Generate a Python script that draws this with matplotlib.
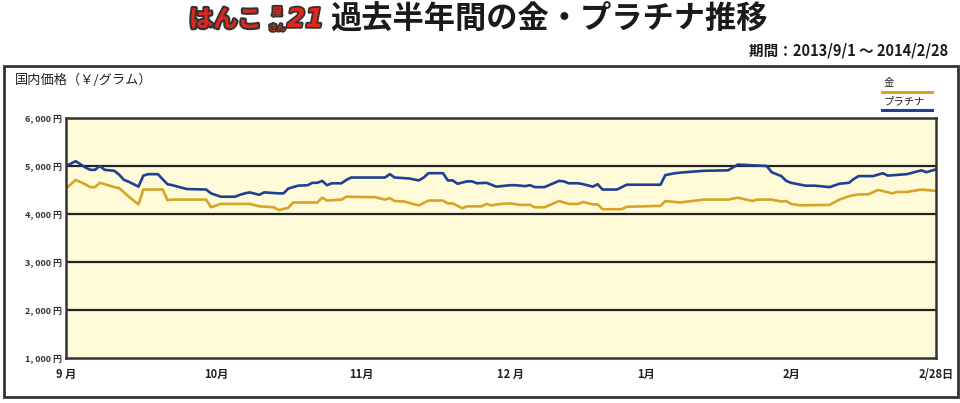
import matplotlib
matplotlib.use("Agg")
import matplotlib.pyplot as plt
import matplotlib.patheffects as pe
from matplotlib.patches import Rectangle
from matplotlib.lines import Line2D

plt.rcParams['font.family'] = ['Noto Sans CJK JP', 'DejaVu Sans']

# 2013/9/1 からの経過日数と価格 (円/グラム)
plat_days = [0, 2, 4, 5, 6, 7, 8, 10, 11, 12, 13, 15, 16, 17, 19, 21, 22, 25, 29, 30,
             32, 35, 36, 37, 38, 40, 41, 44, 45, 46, 48, 50, 51, 52, 53, 54, 55, 57, 58, 59,
             63, 66, 67, 68, 71, 73, 74, 75, 78, 79, 80, 81, 83, 84, 85, 87, 89, 92, 93, 95,
             96, 97, 99, 102, 103, 104, 106, 107, 109, 110, 111, 114, 116, 123, 124, 126, 128,
             132, 137, 139, 145, 146, 148, 149, 150, 153, 155, 158, 160, 162, 163, 164, 167,
             169, 170, 174, 177, 178, 180]
plat_vals = [5000, 5100, 4970, 4920, 4920, 5000, 4920, 4900, 4820, 4710, 4670, 4570, 4800,
             4830, 4830, 4620, 4600, 4520, 4510, 4430, 4360, 4360, 4400, 4430, 4450, 4400,
             4450, 4430, 4430, 4530, 4590, 4600, 4650, 4650, 4690, 4600, 4640, 4640, 4710,
             4760, 4760, 4760, 4830, 4760, 4740, 4700, 4760, 4850, 4850, 4700, 4700, 4630,
             4680, 4680, 4640, 4650, 4570, 4600, 4600, 4580, 4600, 4560, 4560, 4690, 4680,
             4640, 4640, 4620, 4570, 4620, 4510, 4510, 4610, 4610, 4810, 4850, 4870, 4900,
             4910, 5030, 5000, 4870, 4790, 4690, 4650, 4590, 4590, 4560, 4630, 4650, 4730,
             4790, 4790, 4850, 4800, 4830, 4910, 4870, 4930]

gold_days = [0, 2, 4, 5, 6, 7, 8, 10, 11, 13, 15, 16, 20, 21, 22, 29, 30, 32, 35, 38,
             40, 43, 44, 46, 47, 52, 53, 54, 57, 58, 64, 66, 67, 68, 70, 71, 73, 75, 78, 79,
             80, 82, 83, 86, 87, 88, 90, 92, 94, 96, 97, 99, 102, 104, 106, 107, 109, 110,
             111, 115, 116, 123, 124, 127, 132, 137, 139, 142, 143, 146, 148, 149, 150, 152,
             158, 160, 162, 164, 166, 168, 171, 172, 174, 177, 180]
gold_vals = [4530, 4710, 4620, 4560, 4560, 4650, 4620, 4560, 4540, 4360, 4200, 4510, 4510,
             4290, 4300, 4300, 4140, 4210, 4210, 4210, 4160, 4140, 4080, 4130, 4240, 4240,
             4340, 4280, 4300, 4360, 4350, 4300, 4330, 4270, 4260, 4230, 4180, 4280, 4280,
             4220, 4220, 4120, 4160, 4160, 4210, 4180, 4210, 4220, 4190, 4190, 4140, 4140,
             4270, 4210, 4210, 4250, 4200, 4200, 4100, 4100, 4150, 4170, 4270, 4240, 4300,
             4300, 4340, 4270, 4300, 4300, 4260, 4270, 4210, 4180, 4190, 4300, 4370, 4410,
             4410, 4500, 4430, 4460, 4460, 4510, 4480]

month_pos = [0, 31, 61, 92, 120, 150, 180]
month_labels = ['9 月', '10月', '11月', '12 月', '1月', '2月', '2/28日']
y_ticks = [1000, 2000, 3000, 4000, 5000, 6000]
y_labels = ['1, 000 円', '2, 000 円', '3, 000 円', '4, 000 円', '5, 000 円', '6, 000 円']

GOLD = '#D6A426'
PLAT = '#1F3F94'

W, H = 960, 403
fig = plt.figure(figsize=(W / 100, H / 100), dpi=100)


def fx(x):
    return x / W


def fy(y):
    return 1 - y / H


# 外枠
fig.patches.append(Rectangle((fx(4), fy(397)), fx(954), (397 - 66) / H, transform=fig.transFigure,
                             fill=False, edgecolor='#333333', linewidth=2))

ax = fig.add_axes([fx(66), fy(358), fx(936 - 66), (358 - 118) / H])
ax.set_facecolor('#FFFBD8')
ax.plot(gold_days, gold_vals, color=GOLD, lw=1.9)
ax.plot(plat_days, plat_vals, color=PLAT, lw=1.9)
for v in [2000, 3000, 4000, 5000]:
    ax.axhline(v, color='#222222', lw=1.6, zorder=0.5)
ax.set_xlim(0, 180)
ax.set_ylim(1000, 6000)
ax.set_yticks(y_ticks)
ax.set_yticklabels(y_labels, fontsize=6.5, fontweight='bold', color='#333333')
ax.set_xticks(month_pos)
ax.set_xticklabels(month_labels, fontsize=8, fontweight='bold', color='#222222')
ax.tick_params(length=0, pad=3)
ax.tick_params(axis='x', pad=7)
for s in ax.spines.values():
    s.set_color('#333333')
    s.set_linewidth(1.8)

# タイトル (ロゴ)
logo = fig.text(fx(189), fy(20), 'はんこ', fontsize=17.5, fontweight='bold', color='#E0261D',
                va='center', ha='left')
logo.set_path_effects([pe.withStroke(linewidth=3, foreground='#333333')])
t1 = fig.text(fx(277), fy(12), '屋', fontsize=7.5, fontweight='bold', color='#E0261D',
              va='center', ha='center')
t2 = fig.text(fx(277), fy(28), 'さん', fontsize=6, fontweight='bold', color='#E0261D',
              va='center', ha='center')
t3 = fig.text(fx(287), fy(20), '21', fontsize=19, fontweight='bold', style='italic', color='#E0261D',
              va='center', ha='left', family='DejaVu Sans')
for t in (t1, t2, t3):
    t.set_path_effects([pe.withStroke(linewidth=2.5, foreground='#333333')])
fig.text(fx(330), fy(20), '過去半年間の金・プラチナ推移', fontsize=22.5, fontweight='bold',
         color='#1A1A1A', va='center', ha='left')
fig.text(fx(948), fy(50), '期間：2013/9/1 〜 2014/2/28', fontsize=10.5, fontweight='bold',
         color='#1A1A1A', va='center', ha='right')

fig.text(fx(15), fy(80), '国内価格（￥/グラム）', fontsize=9.5, color='#222222', va='center', ha='left')

# 凡例
fig.text(fx(884), fy(83), '金', fontsize=7.5, color='#222222', va='center', ha='left')
fig.lines.append(Line2D([fx(882), fx(932)], [fy(92), fy(92)], transform=fig.transFigure,
                        color=GOLD, lw=2.2))
fig.text(fx(884), fy(101), 'プラチナ', fontsize=7.5, color='#222222', va='center', ha='left')
fig.lines.append(Line2D([fx(882), fx(932)], [fy(110), fy(110)], transform=fig.transFigure,
                        color=PLAT, lw=2.2))

fig.savefig('out.png', dpi=100)
